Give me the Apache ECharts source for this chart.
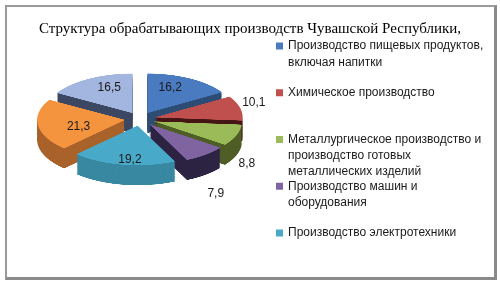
<!DOCTYPE html>
<html><head><meta charset="utf-8">
<script src="https://cdn.jsdelivr.net/npm/echarts@6/dist/echarts.min.js"></script>
<style>
html,body{margin:0;padding:0;background:#fff;}
#wrap{position:relative;width:500px;height:282px;overflow:hidden;background:#fff;}
#frame{position:absolute;left:5px;top:5px;width:492px;height:275px;box-sizing:border-box;border-style:solid;border-color:#9a9a9a #8a8a8a #8a8a8a #9a9a9a;border-width:2px 3px 3px 2px;}
#pie{position:absolute;left:0;top:0;width:500px;height:282px;transform-origin:0 119px;transform:scaleY(0.45);}
#main{position:absolute;left:0;top:0;width:500px;height:282px;}
</style></head><body>
<div id="wrap"><div id="frame"></div><div id="pie"></div><div id="main"></div></div>
<script>
// ---- data ----
const categories = [
  'Производство пищевых продуктов, включая напитки',
  'Химическое производство',
  'Металлургическое производство и производство готовых металлических изделий',
  'Производство машин и оборудования',
  'Производство электротехники',
  'Производство транспортных средств',
  'Прочие производства'
];
const values = [16.2, 10.1, 8.8, 7.9, 19.2, 21.3, 16.5];
const legendLabels = [
  'Производство пищевых продуктов,\nвключая напитки',
  'Химическое производство',
  'Металлургическое производство и\nпроизводство готовых\nметаллических изделий',
  'Производство машин и\nоборудования',
  'Производство электротехники'
];
const titleText = 'Структура обрабатывающих производств Чувашской Республики,';

// ---- styles ----
const topColors  = ['#4a7bc0', '#c0504d', '#9bbb59', '#8064a2', '#48aac8', '#f5943f', '#a3b6e0'];
const sideColors = ['#2e4d75', '#451515', '#4f5e26', '#2d2342', '#3888a2', '#a9622a', '#3c4762'];
const CX = 140, CY = 119, R = 88, OFF = 15, K = 0.45, DEPTH = 20, LH = 16.3;
const K_OUT = 0.63, K_IN = 0.498, SHIFT_IN = 2.5;

const total = values.reduce((a, b) => a + b, 0);
let acc = 0;
const mids = values.map(v => { const m = (acc + v / 2) / total * 2 * Math.PI; acc += v; return m; });
const order = values.map((v, i) => i).sort((a, b) => Math.cos(mids[b]) - Math.cos(mids[a]));

const pieChart = echarts.init(document.getElementById('pie'), null, {devicePixelRatio: 2});
const pieSeries = [];
const stepU = 1 / K;
order.forEach(s => {
  for (let j = DEPTH; j >= 0; j--) {
    pieSeries.push({
      type: 'pie', silent: true, animation: false,
      center: [CX, CY + j * stepU], radius: [0, R],
      startAngle: 90, clockwise: true,
      selectedMode: 'multiple', selectedOffset: OFF,
      label: {show: false}, labelLine: {show: false},
      itemStyle: {borderWidth: 0},
      emphasis: {disabled: true},
      select: {itemStyle: {borderWidth: 0}},
      data: values.map((v, i) => ({
        value: v, name: categories[i], selected: true,
        itemStyle: {color: i === s ? (j === 0 ? topColors[i] : sideColors[i]) : 'rgba(0,0,0,0)'}
      }))
    });
  }
});
pieChart.setOption({animation: false, series: pieSeries});

const main = echarts.init(document.getElementById('main'));
main.setOption({
  animation: false,
  title: {
    text: titleText, left: 'center', top: 17,
    textStyle: {fontFamily: 'Liberation Serif', fontSize: 15, fontWeight: 'normal', color: '#000'}
  },
  legend: legendLabels.map((txt, i) => {
    const n = txt.split('\n').length;
    const H = (2 * n - 1) * LH;
    return {
      left: 276, top: 46 + i * 46.75 - H / 2, padding: 0, orient: 'vertical',
      icon: 'rect', itemWidth: 7, itemHeight: 7, itemGap: 0, selectedMode: false,
      data: [{name: categories[i], itemStyle: {color: topColors[i], opacity: 1}}],
      formatter: () => '\n'.repeat(n - 1) + txt,
      textStyle: {fontFamily: 'Liberation Sans', fontSize: 12, color: '#1a1a1a', lineHeight: LH}
    };
  }),
  series: [{
    type: 'pie', silent: true, center: [CX, CY], radius: [0, R],
    startAngle: 90, clockwise: true, selectedMode: 'multiple', selectedOffset: OFF,
    itemStyle: {color: 'rgba(0,0,0,0)', borderWidth: 0},
    emphasis: {disabled: true},
    label: {
      show: true, formatter: p => String(p.value).replace('.', ','),
      fontFamily: 'Liberation Sans', fontSize: 12, color: '#1a1a1a', distanceToLabelLine: 2
    },
    labelLine: {show: false, length: 0, length2: 0},
    labelLayout: p => {
      const i = p.dataIndex;
      const r = p.labelRect;
      const yc = r.y + r.height / 2;
      const outside = values[i] < 12;
      const target = outside
        ? CY + (yc - CY) * K_OUT + (Math.cos(mids[i]) < 0 ? DEPTH : 0)
        : CY + (yc - CY) * K_IN + SHIFT_IN;
      return {dy: target - yc};
    },
    data: values.map((v, i) => ({
      value: v, name: categories[i], selected: true,
      label: {position: v < 12 ? 'outside' : 'inside'}
    }))
  }]
});
</script>
</body></html>
